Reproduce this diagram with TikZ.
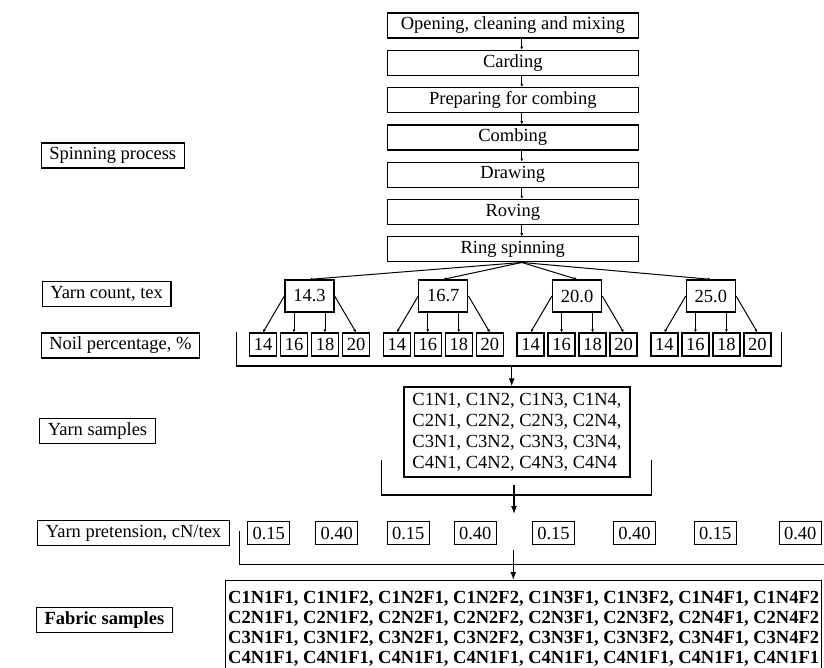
\documentclass[tikz,border=0pt]{standalone}
\usepackage{fontspec}
\setmainfont{Liberation Serif}
\usetikzlibrary{arrows,arrows.meta,positioning,calc}

\tikzset{
  stagebox/.style={draw,line width=1.3pt,minimum width=251pt,minimum height=25pt,inner sep=0pt},
  countbox/.style={draw,line width=1.3pt,minimum width=49pt,minimum height=32pt,inner sep=0pt},
  noilbox/.style={draw,line width=1.3pt,minimum width=27pt,minimum height=23pt,inner sep=0pt},
  pretbox/.style={draw,line width=1.1pt,minimum width=42pt,minimum height=22.5pt,inner sep=0pt},
  sidebox/.style={draw,line width=1.1pt,anchor=west,minimum height=25pt,inner xsep=8pt,inner ysep=0pt},
  link/.style={line width=1pt,-{Latex[length=3pt,width=3pt]}},
  feed/.style={line width=1.2pt,-{Latex[length=8pt,width=6pt]}},
  bracketline/.style={line width=1.2pt}
}

\begin{document}
\begin{tikzpicture}[x=1pt,y=-1pt,font=\fontsize{18.5}{21}\selectfont]

\useasboundingbox (0,0) rectangle (824,668);

% spinning process
\node[stagebox] (open) at (512.8,25.5) {Opening, cleaning and mixing};
\node[stagebox,below=11pt of open] (card) {Carding};
\node[stagebox,below=11pt of card] (prep) {Preparing for combing};
\node[stagebox,below=11pt of prep] (comb) {Combing};
\node[stagebox,below=11pt of comb] (drw) {Drawing};
\node[stagebox,below=11pt of drw] (rove) {Roving};
\node[stagebox,below=11pt of rove] (ring) {Ring spinning};

\foreach \a/\b in {open/card,card/prep,prep/comb,comb/drw,drw/rove,rove/ring}
  \draw[link] ([xshift=9pt]\a.south) -- ([xshift=9pt]\b.north);

% yarn counts and noil
\foreach \v [count=\i] in {14.3,16.7,20.0,25.0} {
  \node[countbox] (c\i) at ({309.5+133.8*(\i-1)},296) {\v};
  \draw[link] ([xshift=9pt]ring.south) -- (c\i.north);
  \foreach \p [count=\j] in {14,16,18,20}
    \node[noilbox] (n\i\j) at ($(c\i)+({31*\j-77.5},48.5)$) {\p};
  \draw[link] (c\i.west) -- (n\i1.north);
  \draw[link] (n\i2.north |- c\i.south) -- (n\i2.north);
  \draw[link] (n\i3.north |- c\i.south) -- (n\i3.north);
  \draw[link] (c\i.east) -- (n\i4.north);
}

\draw[bracketline] (236.7,331.7) -- (236.7,366) -- (781.7,366) -- (781.7,331.7);
\coordinate (nb) at (511.7,366);

% yarn samples
\node[draw,line width=1.3pt,align=left,minimum width=226pt,minimum height=90pt,inner sep=0pt] (ys) at (517,432)
  {C1N1, C1N2, C1N3, C1N4,\\C2N1, C2N2, C2N3, C2N4,\\C3N1, C3N2, C3N3, C3N4,\\C4N1, C4N2, C4N3, C4N4};
\draw[feed] (nb) -- (nb |- ys.north);

\draw[bracketline] (381.7,460) -- (381.7,495) -- (651.7,495) -- (651.7,460);
\coordinate (yb) at (514,485);
\coordinate (yt) at (514,514);
\draw[feed] (yb) -- (yt);

% pretension
\foreach \x/\v [count=\k] in {268.8/0.15,336.8/0.40,408.2/0.15,475.2/0.40,553.5/0.15,634.5/0.40,715.2/0.15,800.3/0.40}
  \node[pretbox] (t\k) at (\x,533) {\v};

\draw[bracketline] (239.3,530.7) -- (239.3,564.3) -- (830,564.3);
\coordinate (fb) at (513.3,550);

% fabric samples
\node[draw,line width=1.3pt,anchor=north west,align=left,minimum width=596pt,minimum height=96pt,inner xsep=2.5pt,inner ysep=5pt,font=\fontsize{18.5}{20}\selectfont\bfseries] (fs) at (225,580)
  {C1N1F1, C1N1F2, C1N2F1, C1N2F2, C1N3F1, C1N3F2, C1N4F1, C1N4F2\\
   C2N1F1, C2N1F2, C2N2F1, C2N2F2, C2N3F1, C2N3F2, C2N4F1, C2N4F2\\
   C3N1F1, C3N1F2, C3N2F1, C3N2F2, C3N3F1, C3N3F2, C3N4F1, C3N4F2\\
   C4N1F1, C4N1F1, C4N1F1, C4N1F1, C4N1F1, C4N1F1, C4N1F1, C4N1F1};
\draw[feed] (fb) -- (fb |- fs.north);

% row names
\node[sidebox] (lsp) at (40.7,155.5) {Spinning process};
\node[sidebox] (lyc) at (41.7,294) {Yarn count, tex};
\node[sidebox] (lnp) at (40.7,345.5) {Noil percentage, \%};
\node[sidebox] (lys) at (39.3,431) {Yarn samples};
\node[sidebox] (lyp) at (37.3,533.4) {Yarn pretension, cN/tex};
\node[sidebox,font=\fontsize{18.5}{21}\selectfont\bfseries] (lfs) at (36,620) {Fabric samples};

\end{tikzpicture}
\end{document}
